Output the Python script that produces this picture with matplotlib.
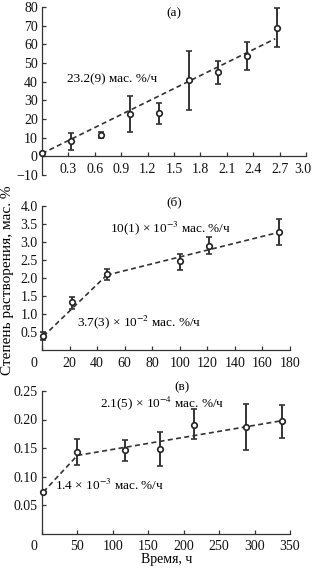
import matplotlib
matplotlib.use("Agg")
import matplotlib.pyplot as plt
import matplotlib.transforms as mtransforms
import numpy as np

plt.rcParams['font.family'] = ['Liberation Serif', 'DejaVu Serif']
plt.rcParams['mathtext.fontset'] = 'stix'
plt.rcParams['font.size'] = 9.5

# Panel (a)
a_t = [0.0, 0.33, 0.67, 1.0, 1.33, 1.67, 2.0, 2.33, 2.67]
a_y = [1.8, 8.0, 11.6, 22.8, 23.2, 40.7, 45.0, 54.0, 69.0]
a_lo = [0.0, 4.5, 1.6, 9.8, 5.7, 15.7, 6.4, 7.5, 10.4]
a_hi = [0.0, 4.6, 1.4, 9.5, 5.2, 15.8, 6.0, 7.2, 10.3]
a_fit_x = [0.0, 2.65]
a_fit_int, a_fit_slope = 1.5, 23.2

# Panel (b)
b_t = [1, 22, 47, 100, 121, 172]
b_y = [0.40, 1.32, 2.10, 2.47, 2.90, 3.27]
b_lo = [0.12, 0.17, 0.15, 0.24, 0.24, 0.36]
b_hi = [0.10, 0.15, 0.15, 0.21, 0.24, 0.36]
b_seg1_x = [1, 47]
b_seg1_y = [0.38, 2.08]
b_seg2_x = [47, 172]
b_seg2_y = [2.08, 3.27]

# Panel (c)
c_t = [2, 50, 117, 167, 214, 288, 339]
c_y = [0.073, 0.143, 0.146, 0.148, 0.191, 0.187, 0.197]
c_lo = [0.0, 0.022, 0.019, 0.029, 0.026, 0.041, 0.030]
c_hi = [0.0, 0.023, 0.018, 0.030, 0.027, 0.041, 0.029]
c_seg1_x = [2, 50]
c_seg1_y = [0.073, 0.137]
c_seg2_x = [50, 339]
c_seg2_y = [0.137, 0.198]

W, H = 313, 569
fig = plt.figure(figsize=(W/100, H/100), dpi=100)

def box(l, r, t, b):
    return [l/W, 1 - b/H, (r - l)/W, (b - t)/H]

def ftext(x, y, s, **kw):
    kw.setdefault('ha', 'center')
    kw.setdefault('va', 'center')
    kw.setdefault('fontsize', 9.5)
    fig.text(x/W, 1 - y/H, s, **kw)

axa = fig.add_axes(box(42, 306, 7, 175))
axb = fig.add_axes(box(42, 290, 206, 350))
axc = fig.add_axes(box(42, 290, 391, 533.5))

dash = dict(color='#333333', lw=1.2, ls=(0, (3, 2)))
ekw = dict(fmt='o', ms=4.0, mfc='white', mec='#222222', mew=1.2,
           ecolor='#333333', elinewidth=1.4, capsize=2, capthick=1.2, zorder=3)

def style(ax):
    for s in ['top', 'right']:
        ax.spines[s].set_visible(False)
    for s in ['left', 'bottom']:
        ax.spines[s].set_color('#333333')
        ax.spines[s].set_linewidth(0.9)
    ax.tick_params(direction='in', length=3, width=0.9, color='#333333',
                   labelsize=10, pad=3, labelcolor='#111111')
    ax.tick_params(axis='x', pad=5)

def shift_xlabel(ax, idx, dx):
    lbl = ax.get_xticklabels()[idx]
    off = mtransforms.ScaledTranslation(dx/100, 0, fig.dpi_scale_trans)
    lbl.set_transform(lbl.get_transform() + off)

# (a)
xf = np.array(a_fit_x)
axa.plot(xf, a_fit_int + a_fit_slope*xf, **dash)
axa.errorbar(a_t, a_y, yerr=[a_lo, a_hi], clip_on=False, **ekw)
axa.set_xlim(0, 3.0)
axa.set_ylim(-10, 80)
axa.spines['bottom'].set_position(('data', 0))
axa.set_xticks([0.3, 0.6, 0.9, 1.2, 1.5, 1.8, 2.1, 2.4, 2.7, 3.0])
axa.set_xticklabels(['0.3', '0.6', '0.9', '1.2', '1.5', '1.8', '2.1', '2.4', '2.7', '3.0'])
axa.set_yticks(np.arange(-10, 81, 10))
style(axa)
shift_xlabel(axa, -1, -3)

# (b)
axb.plot(b_seg1_x, b_seg1_y, **dash)
axb.plot(b_seg2_x, b_seg2_y, **dash)
axb.errorbar(b_t, b_y, yerr=[b_lo, b_hi], clip_on=False, **ekw)
axb.set_xlim(0, 180)
axb.set_ylim(0, 4.0)
axb.set_xticks(np.arange(0, 181, 20))
axb.set_yticks([0.5, 1.0, 1.5, 2.0, 2.5, 3.0, 3.5, 4.0])
axb.set_yticklabels(['0.5', '1.0', '1.5', '2.0', '2.5', '3.0', '3.5', '4.0'])
style(axb)
shift_xlabel(axb, 0, -8)

# (c)
axc.plot(c_seg1_x, c_seg1_y, **dash)
axc.plot(c_seg2_x, c_seg2_y, **dash)
axc.errorbar(c_t, c_y, yerr=[c_lo, c_hi], clip_on=False, **ekw)
axc.set_xlim(0, 350)
axc.set_ylim(0, 0.25)
axc.set_xticks(np.arange(0, 351, 50))
axc.set_yticks([0.05, 0.10, 0.15, 0.20, 0.25])
axc.set_yticklabels(['0.05', '0.10', '0.15', '0.20', '0.25'])
style(axc)
shift_xlabel(axc, 0, -8)

# annotations (pixel positions)
ftext(174, 13, '(а)')
ftext(67, 79, '23.2(9) мас. %/ч', ha='left')
ftext(174, 202, '(б)')
ftext(110, 228, r'10(1) × 10$^{-3}$ мас. %/ч', ha='left')
ftext(77, 322, r'3.7(3) × 10$^{-2}$ мас. %/ч', ha='left')
ftext(182, 387, '(в)')
ftext(100, 403, r'2.1(5) × 10$^{-4}$ мас. %/ч', ha='left')
ftext(55, 485, r'1.4 × 10$^{-3}$ мас. %/ч', ha='left')

ftext(167, 560, 'Время, ч', fontsize=10)
ftext(8, 280, 'Степень растворения, мас. %', rotation=90, fontsize=11)

fig.savefig('out.png', dpi=100)
